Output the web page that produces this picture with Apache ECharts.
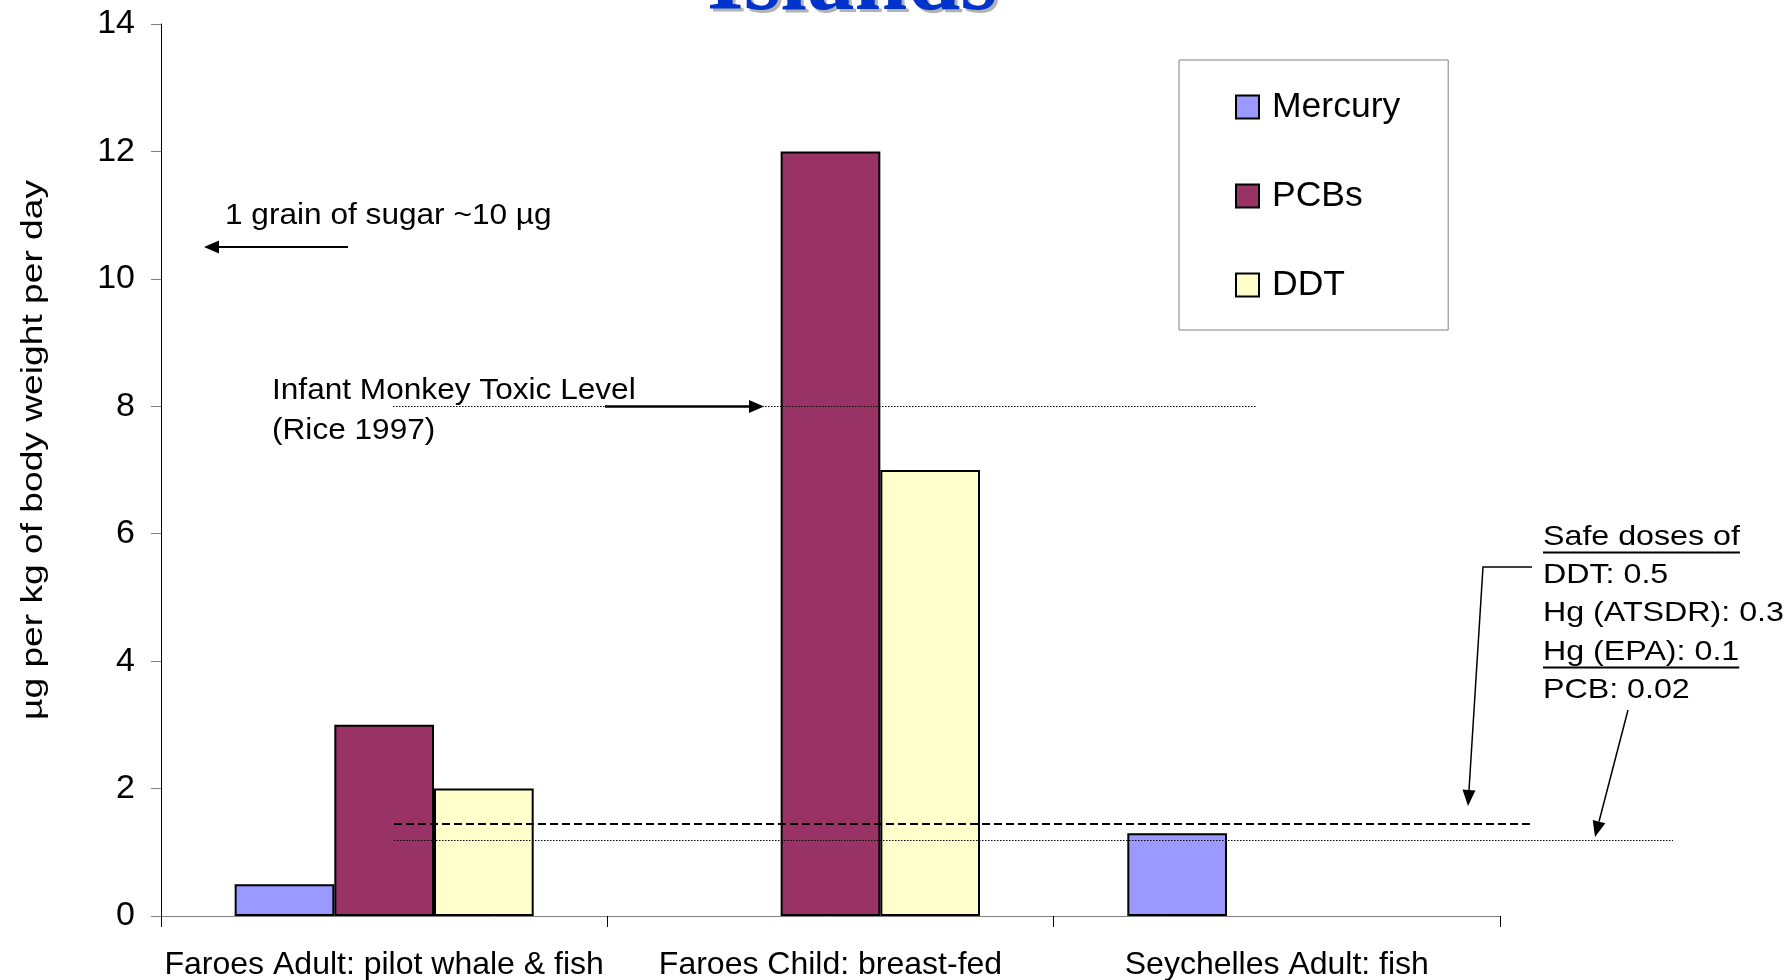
<!DOCTYPE html>
<html>
<head>
<meta charset="utf-8">
<title>Islands</title>
<script src="https://cdn.jsdelivr.net/npm/echarts@6/dist/echarts.min.js"></script>
<style>
  html, body { margin: 0; padding: 0; background: #fff; }
  #chart { width: 1787px; height: 980px; }
</style>
</head>
<body>
<div id="chart"></div>
<script>
// Daily intake by population group (µg per kg of body weight per day)
const categories = ['Faroes Adult: pilot whale & fish', 'Faroes Child: breast-fed', 'Seychelles Adult: fish'];
const seriesNames = ['Mercury', 'PCBs', 'DDT'];
const mercury = [0.5, null, 1.3];
const pcbs = [3, 12, null];
const ddt = [2, 7, null];
const seriesColors = ['#9999FF', '#993366', '#FFFFCC'];

// Value axis range
const yMin = 0;
const yMax = 14;
const yStep = 2;

// Reference levels drawn across the plot
const monkeyToxicLevel = 8;
const safeDoseDashLevel = 1.45;
const safeDoseDotLevel = 1.2;

// Annotation texts
const titleText = 'Islands';
const yAxisTitle = 'µg per kg of body weight per day';
const sugarNote = '1 grain of sugar ~10 µg';
const monkeyNote = ['Infant Monkey Toxic Level', '(Rice 1997)'];
const safeDoseNote = ['Safe doses of', 'DDT: 0.5', 'Hg (ATSDR): 0.3', 'Hg (EPA): 0.1', 'PCB: 0.02'];
const underlinedRows = [0, 3];

const FONT = '"Liberation Sans", Arial, sans-serif';
const chart = echarts.init(document.getElementById('chart'), null, { renderer: 'canvas' });

const valuesBySeries = [mercury, pcbs, ddt];

chart.setOption({
  animation: false,
  backgroundColor: '#ffffff',
  textStyle: { fontFamily: FONT, color: '#000' },
  grid: { left: 161, right: 287, top: 24, bottom: 64, containLabel: false, outerBoundsMode: 'none' },
  legend: {
    data: seriesNames,
    orient: 'vertical',
    left: 1179,
    top: 60,
    icon: 'rect',
    itemWidth: 23,
    itemHeight: 23,
    itemGap: 53,
    padding: [29, 48, 27, 56],
    borderColor: '#808080',
    borderWidth: 1,
    selectedMode: false,
    textStyle: { fontFamily: FONT, fontSize: 35.5, color: '#000', lineHeight: 36, padding: [0, 0, 0, 8] }
  },
  xAxis: {
    type: 'category',
    data: categories,
    boundaryGap: true,
    axisLine: { lineStyle: { color: '#808080', width: 1 } },
    axisTick: { show: true, length: 11, alignWithLabel: false, lineStyle: { color: '#000', width: 1 } },
    axisLabel: { interval: 0, fontSize: 32, color: '#000', margin: 33, fontFamily: FONT },
    splitLine: { show: false }
  },
  yAxis: {
    type: 'value',
    min: yMin,
    max: yMax,
    interval: yStep,
    axisLine: { show: true, lineStyle: { color: '#000', width: 1 } },
    axisTick: { show: true, length: 10, lineStyle: { color: '#808080', width: 1 } },
    axisLabel: { fontSize: 34, color: '#000', margin: 26, fontFamily: FONT },
    splitLine: { show: false }
  },
  series: seriesNames.map((name, i) => ({
    name: name,
    type: 'bar',
    data: valuesBySeries[i],
    barGap: '0%',
    barCategoryGap: '33%',
    itemStyle: { color: seriesColors[i], borderColor: '#000', borderWidth: 2 },
    emphasis: { disabled: true }
  }))
});

// ---- annotations: reference lines, notes and arrows (drawn above the bars) ----
// snap a value-axis level to the pixel grid so thin dotted lines stay crisp
const yPx = v => Math.round(chart.convertToPixel({ yAxisIndex: 0 }, v)) + 0.5;
const TOP_Z = 100;

const measureCtx = document.createElement('canvas').getContext('2d');
function textWidth(str, size, scaleX) {
  measureCtx.font = size + 'px ' + FONT;
  return measureCtx.measureText(str).width * scaleX;
}

function hLine(x1, x2, y, dash, width) {
  return {
    type: 'line', silent: true, z: TOP_Z,
    shape: { x1: x1, y1: y, x2: x2, y2: y },
    style: { stroke: '#000', lineWidth: width, lineDash: dash }
  };
}

function label(str, x, y, size, scaleX) {
  return {
    type: 'text', silent: true, z: TOP_Z, x: x, y: y, scaleX: scaleX,
    style: { text: str, x: 0, y: 0, font: size + 'px ' + FONT, fill: '#000', textAlign: 'left', textVerticalAlign: 'middle' }
  };
}

// polyline ending in a filled arrowhead at its last point
function arrow(points, headLen, headHalf, width) {
  const n = points.length;
  const tip = points[n - 1];
  const prev = points[n - 2];
  const dx = tip[0] - prev[0], dy = tip[1] - prev[1];
  const len = Math.hypot(dx, dy);
  const ux = dx / len, uy = dy / len;
  const bx = tip[0] - ux * headLen, by = tip[1] - uy * headLen;
  const shaft = points.slice(0, n - 1).concat([[bx, by]]);
  return [
    { type: 'polyline', silent: true, z: TOP_Z, shape: { points: shaft }, style: { stroke: '#000', lineWidth: width, fill: null } },
    { type: 'polygon', silent: true, z: TOP_Z,
      shape: { points: [tip, [bx - uy * headHalf, by + ux * headHalf], [bx + uy * headHalf, by - ux * headHalf]] },
      style: { fill: '#000', stroke: null } }
  ];
}

const g = [];

// heading, partly above the canvas top, with a grey drop shadow
const titleFont = 'bold 95px "Liberation Serif", "Times New Roman", serif';
g.push({ type: 'text', silent: true, z: TOP_Z, x: 855, y: -13,
  style: { text: titleText, font: titleFont, fill: '#B2B2B2', textAlign: 'center', textVerticalAlign: 'middle' } });
g.push({ type: 'text', silent: true, z: TOP_Z, x: 852, y: -16,
  style: { text: titleText, font: titleFont, fill: '#0033CC', textAlign: 'center', textVerticalAlign: 'middle' } });

// rotated value-axis title
g.push({ type: 'text', silent: true, z: TOP_Z, x: 34, y: 450, rotation: Math.PI / 2, scaleX: 1.26,
  style: { text: yAxisTitle, x: 0, y: 0, font: '29.5px ' + FONT, fill: '#000', textAlign: 'center', textVerticalAlign: 'middle' } });

// reference lines
const yMonkey = yPx(monkeyToxicLevel);
const yDash = yPx(safeDoseDashLevel);
const yDot = yPx(safeDoseDotLevel);
g.push(hLine(393, 1257, yMonkey, [1.5, 1.5], 1));
g.push(hLine(394, 1532, yDash - 0.5, [8, 4], 2));
g.push(hLine(394, 1673, yDot, [1.5, 1.5], 1));

// sugar grain note
g.push(label(sugarNote, 225, 216, 29, 1.09));
g.push(...arrow([[348, 247], [204, 247]], 15, 6.5, 2));

// monkey toxic level note
monkeyNote.forEach((line, i) => g.push(label(line, 272, 391 + i * 40, 29, 1.09)));
g.push(...arrow([[605, yMonkey], [764, yMonkey]], 15, 6.5, 2.5));

// safe dose note block
const safeSize = 28, safeScale = 1.15, safeTop = 537, safeStep = 38.3;
safeDoseNote.forEach((line, i) => {
  const cy = safeTop + i * safeStep;
  g.push(label(line, 1543, cy, safeSize, safeScale));
  if (underlinedRows.indexOf(i) >= 0) {
    const w = textWidth(line, safeSize, safeScale);
    g.push(hLine(1543, 1543 + w, cy + 15.5, null, 2));
  }
});
g.push(...arrow([[1532, 567], [1483, 567], [1468, 806]], 16, 6.5, 1.5));
g.push(...arrow([[1628, 710], [1595, 837]], 16, 6.5, 1.5));

chart.setOption({ graphic: g });
</script>
</body>
</html>
